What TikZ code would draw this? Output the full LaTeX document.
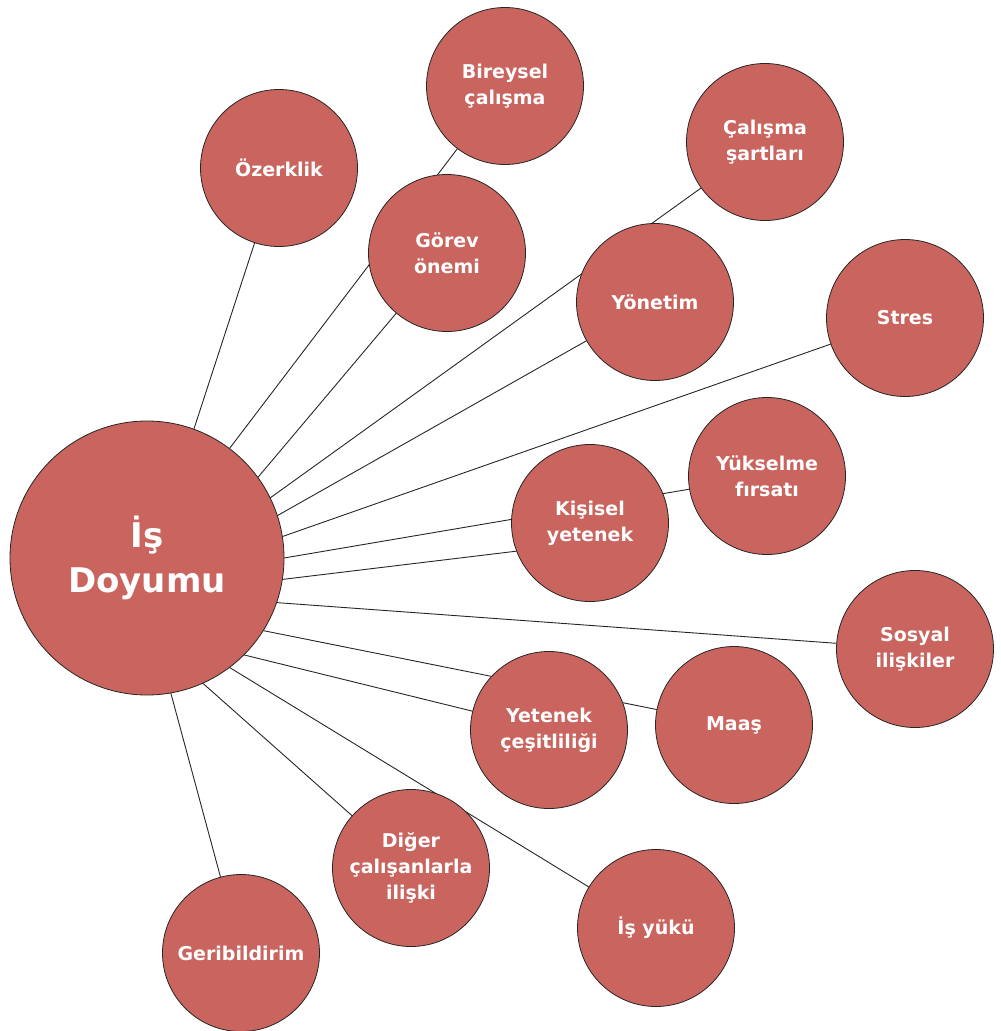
\documentclass[tikz,border=0pt]{standalone}
\usepackage{fontspec}
\setmainfont{DejaVu Sans}
\usetikzlibrary{backgrounds}
\definecolor{bubble}{RGB}{201,100,94}

\begin{document}
\begin{tikzpicture}[x=1pt, y=-1pt,
    sat/.style={circle, draw=black!85, line width=0.8pt, fill=bubble,
      minimum size=157pt, inner sep=0pt, outer sep=0pt, text=white,
      align=center, font=\bfseries\fontsize{19}{26}\selectfont},
    core/.style={sat, minimum size=274pt, font=\bfseries\fontsize{34}{45}\selectfont},
    link/.style={draw=black!85, line width=0.9pt}]

  \useasboundingbox (0,0) rectangle (1001,1031);

  \node[core] (main) at (147,558) {İş\\Doyumu};

  \node[sat] (ozerk)    at (279,168) {Özerklik};
  \node[sat] (bireysel) at (505,86)  {Bireysel\\çalışma};
  \node[sat] (gorev)    at (447,253) {Görev\\önemi};
  \node[sat] (sartlar)  at (765,142) {Çalışma\\şartları};
  \node[sat] (yonetim)  at (655,302) {Yönetim};
  \node[sat] (stres)    at (905,318) {Stres};
  \node[sat] (yukselme) at (767,476) {Yükselme\\fırsatı};
  \node[sat] (kisisel)  at (590,523) {Kişisel\\yetenek};
  \node[sat] (sosyal)   at (915,649) {Sosyal\\ilişkiler};
  \node[sat] (maas)     at (734,725) {Maaş};
  \node[sat] (cesit)    at (549,730) {Yetenek\\çeşitliliği};
  \node[sat] (diger)    at (411,868) {Diğer\\çalışanlarla\\ilişki};
  \node[sat] (yuk)      at (656,928) {İş yükü};
  \node[sat] (geri)     at (241,953) {Geribildirim};

  % connectors go behind the circles
  \begin{scope}[on background layer]
    \draw[link] (main.70)  -- (ozerk);
    \draw[link] (main.53)  -- (bireysel);
    \draw[link] (main.36)  -- (gorev);
    \draw[link] (main.26)  -- (sartlar);
    \draw[link] (main.18.6) -- (yonetim);
    \draw[link] (main.9)   -- (stres);
    \draw[link] (main.0)   -- (yukselme);
    \draw[link] (main.-9)  -- (kisisel.201);
    \draw[link] (main.-19) -- (sosyal);
    \draw[link] (main.-32) -- (maas);
    \draw[link] (main.-45) -- (cesit);
    \draw[link] (main.-53) -- (yuk);
    \draw[link] (main.-66) -- (diger);
    \draw[link] (main.-80) -- (geri);
  \end{scope}
\end{tikzpicture}
\end{document}
